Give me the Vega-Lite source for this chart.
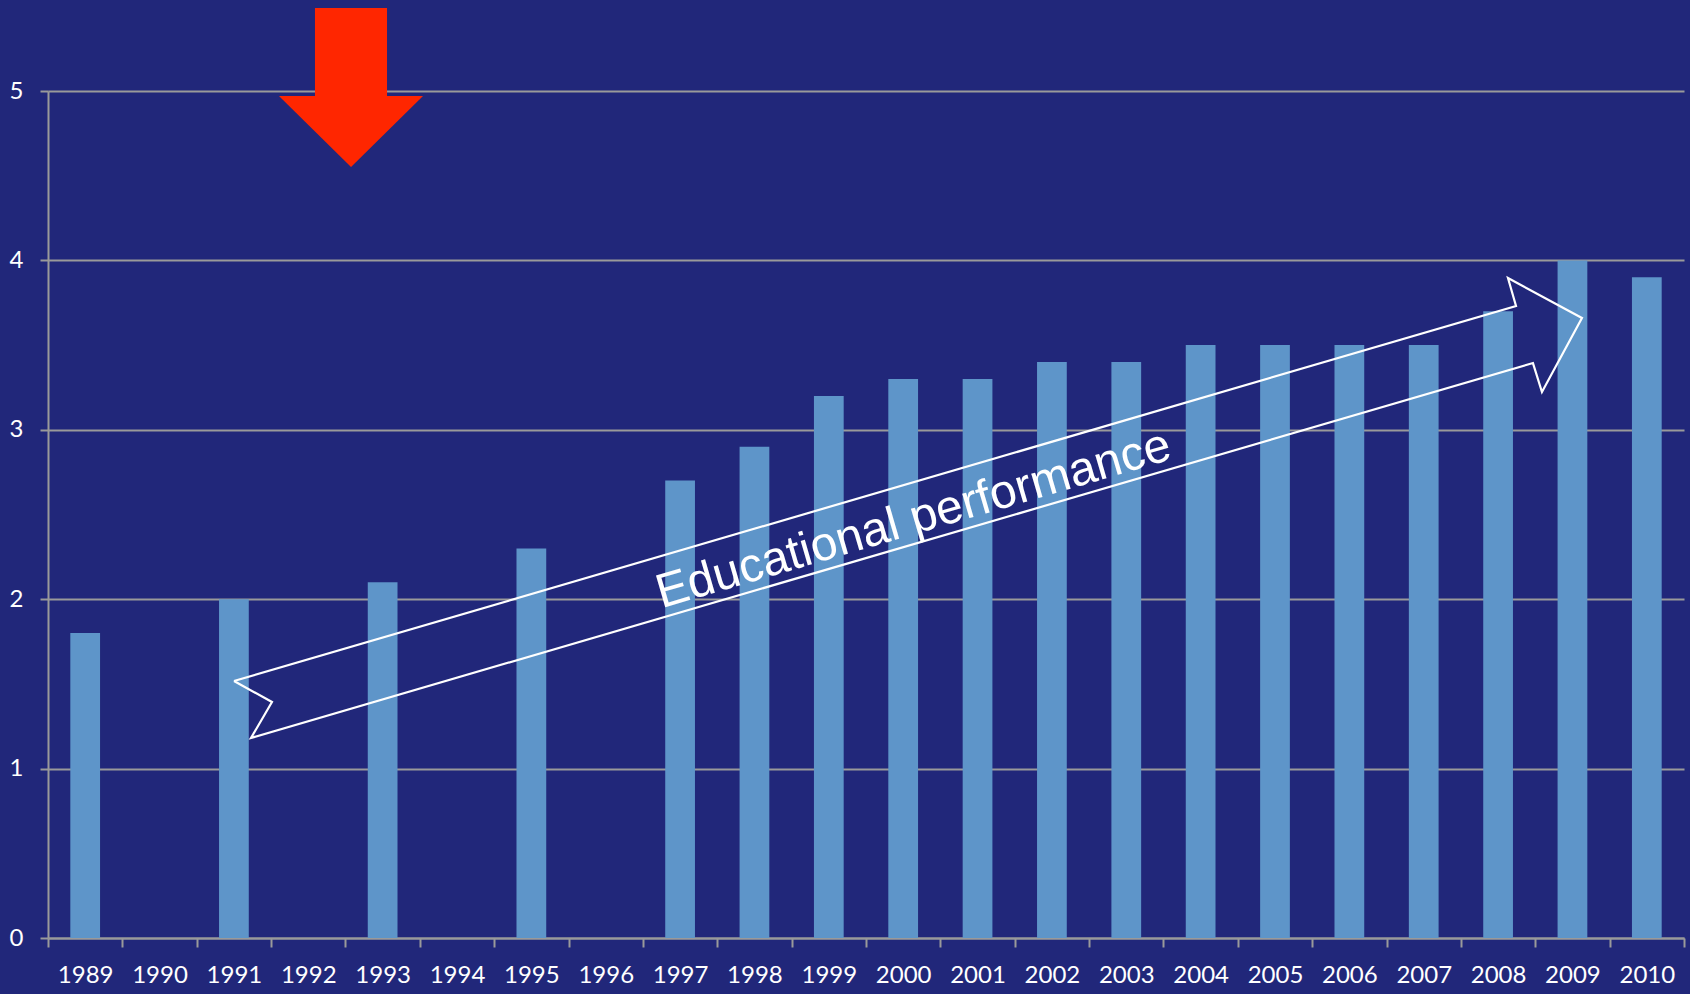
{
  "$schema": "https://vega.github.io/schema/vega-lite/v6.json",
  "width": 1636,
  "height": 847,
  "autosize": {"type": "none"},
  "padding": {"left": 48, "top": 91, "right": 6, "bottom": 56},
  "background": "#21277A",
  "config": {
    "view": {"stroke": null},
    "axis": {
      "labelFont": "Lato",
      "labelFontSize": 24,
      "labelColor": "#FFFFFF",
      "domainColor": "#9A9A9A",
      "domainWidth": 2,
      "tickColor": "#9A9A9A",
      "tickWidth": 2,
      "gridColor": "#9A9A9A",
      "gridWidth": 2,
      "title": null
    }
  },
  "datasets": {
    "bars": [
      {"year": 1989, "value": 1.8},
      {"year": 1991, "value": 2.0},
      {"year": 1993, "value": 2.1},
      {"year": 1995, "value": 2.3},
      {"year": 1997, "value": 2.7},
      {"year": 1998, "value": 2.9},
      {"year": 1999, "value": 3.2},
      {"year": 2000, "value": 3.3},
      {"year": 2001, "value": 3.3},
      {"year": 2002, "value": 3.4},
      {"year": 2003, "value": 3.4},
      {"year": 2004, "value": 3.5},
      {"year": 2005, "value": 3.5},
      {"year": 2006, "value": 3.5},
      {"year": 2007, "value": 3.5},
      {"year": 2008, "value": 3.7},
      {"year": 2009, "value": 4.0},
      {"year": 2010, "value": 3.9}
    ],
    "outline": [
      {"i": 1, "ax": 1991.001, "ay": 1.517},
      {"i": 2, "ax": 2008.241, "ay": 3.731},
      {"i": 3, "ax": 2008.133, "ay": 3.896},
      {"i": 4, "ax": 2009.128, "ay": 3.660},
      {"i": 5, "ax": 2008.590, "ay": 3.223},
      {"i": 6, "ax": 2008.469, "ay": 3.394},
      {"i": 7, "ax": 1991.230, "ay": 1.181},
      {"i": 8, "ax": 1991.512, "ay": 1.393},
      {"i": 9, "ax": 1991.001, "ay": 1.517}
    ],
    "redhead": [
      {"ax": 1991.606, "ay": 4.970, "ay2": 4.970},
      {"ax": 1992.575, "ay": 4.551, "ay2": 4.970},
      {"ax": 1993.543, "ay": 4.970, "ay2": 4.970}
    ],
    "redbody": [
      {"ax": 1992.090, "ax2": 1993.059, "ay": 4.960, "ay2": 5.490}
    ],
    "label": [
      {"ax": 2000.14, "ay": 2.468, "text": "Educational performance"}
    ]
  },
  "layer": [
    {
      "data": {"name": "bars"},
      "mark": {"type": "bar", "color": "#5E95C9", "width": {"band": 0.4}},
      "encoding": {
        "x": {
          "field": "year",
          "type": "ordinal",
          "scale": {
            "domain": [1989, 1990, 1991, 1992, 1993, 1994, 1995, 1996, 1997, 1998, 1999, 2000, 2001, 2002, 2003, 2004, 2005, 2006, 2007, 2008, 2009, 2010],
            "paddingInner": 0,
            "paddingOuter": 0
          },
          "axis": {
            "labelAngle": 0,
            "tickBand": "extent",
            "tickSize": 9,
            "labelPadding": 16,
            "grid": false
          }
        },
        "y": {
          "field": "value",
          "type": "quantitative",
          "scale": {"domain": [0, 5], "nice": false},
          "axis": {
            "values": [0, 1, 2, 3, 4, 5],
            "format": "d",
            "grid": true,
            "tickSize": 8,
            "labelPadding": 17
          }
        }
      }
    },
    {
      "data": {"name": "redbody"},
      "mark": {"type": "rect", "color": "#FF2600"},
      "encoding": {
        "x": {"field": "ax", "type": "quantitative", "scale": {"domain": [1988.5, 2010.5], "nice": false, "zero": false}, "axis": null},
        "x2": {"field": "ax2"},
        "y": {"field": "ay", "type": "quantitative", "scale": {"domain": [0, 5], "nice": false}},
        "y2": {"field": "ay2"}
      }
    },
    {
      "data": {"name": "redhead"},
      "mark": {"type": "area", "color": "#FF2600", "opacity": 1},
      "encoding": {
        "x": {"field": "ax", "type": "quantitative", "scale": {"domain": [1988.5, 2010.5], "nice": false, "zero": false}, "axis": null},
        "y": {"field": "ay", "type": "quantitative", "scale": {"domain": [0, 5], "nice": false}},
        "y2": {"field": "ay2"}
      }
    },
    {
      "data": {"name": "outline"},
      "mark": {"type": "line", "color": "#FFFFFF", "strokeWidth": 2.2, "strokeJoin": "miter"},
      "encoding": {
        "x": {"field": "ax", "type": "quantitative", "scale": {"domain": [1988.5, 2010.5], "nice": false, "zero": false}, "axis": null},
        "y": {"field": "ay", "type": "quantitative", "scale": {"domain": [0, 5], "nice": false}},
        "order": {"field": "i", "type": "quantitative"}
      }
    },
    {
      "data": {"name": "label"},
      "mark": {"type": "text", "color": "#FFFFFF", "font": "Liberation Sans", "fontSize": 48, "angle": -16.3, "align": "center", "baseline": "middle"},
      "encoding": {
        "x": {"field": "ax", "type": "quantitative", "scale": {"domain": [1988.5, 2010.5], "nice": false, "zero": false}, "axis": null},
        "y": {"field": "ay", "type": "quantitative", "scale": {"domain": [0, 5], "nice": false}},
        "text": {"field": "text"}
      }
    }
  ],
  "resolve": {"scale": {"x": "independent"}}
}
